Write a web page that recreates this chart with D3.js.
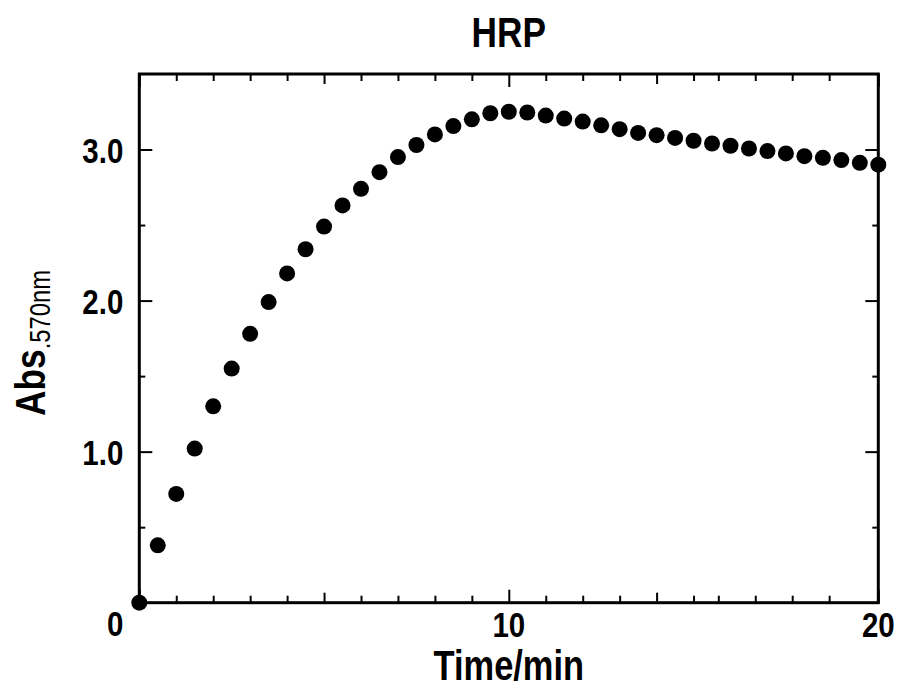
<!DOCTYPE html>
<html>
<head>
<meta charset="utf-8">
<script src="https://cdn.jsdelivr.net/npm/d3@7"></script>
<style>
  body { margin: 0; background: #fff; }
  text { font-family: "Liberation Sans", Arial, sans-serif; font-weight: bold; fill: #000; }
</style>
</head>
<body>
<div id="chart"></div>
<script>
// data
const times = d3.range(0, 20.01, 0.5);
const absValues = [
  0.00, 0.38, 0.72, 1.02, 1.30, 1.55, 1.78, 1.99, 2.18, 2.34,
  2.49, 2.63, 2.74, 2.85, 2.95, 3.03, 3.10, 3.155, 3.20, 3.24,
  3.25, 3.245, 3.225, 3.205, 3.185, 3.16, 3.135, 3.11, 3.095, 3.077,
  3.058, 3.04, 3.025, 3.007, 2.99, 2.974, 2.956, 2.945, 2.93, 2.912, 2.90
];
const xMajorTicks = [0, 10, 20];
const xMidTicks = [5, 14];
const xMinorTicks = [1, 2, 3, 4, 6, 7, 8, 9, 11, 12, 13, 15, 15.67, 16.67, 17.67, 18.67];
const yMajorTicks = [1, 2, 3];
const yMinorTicks = [0.5, 1.5, 2.5];
const xLabels = [10, 20];
const yLabels = [1, 2, 3];

const points = times.map((t, i) => ({ t, v: absValues[i] }));

const W = 899, H = 688;
const NARROW = 0.82; // squeeze the sans font to look like a narrow face
const margin = { top: 74, right: 20.7, bottom: 85.3, left: 139.3 },
      width = W - margin.left - margin.right,
      height = H - margin.top - margin.bottom;

const svg = d3.select("#chart").append("svg")
  .attr("width", W).attr("height", H);

const g = svg.append("g")
  .attr("transform", `translate(${margin.left},${margin.top})`);

const x = d3.scaleLinear().domain([0, 20]).range([0, width]);
const y = d3.scaleLinear().domain([0, 3.5]).range([height, 0]);

function label(parent, px, py, txt, size, anchor) {
  return parent.append("text")
    .attr("transform", `translate(${px},${py}) scale(${NARROW},1)`)
    .attr("text-anchor", anchor || "middle")
    .style("font-size", size + "px")
    .text(txt);
}

// ticks, all pointing inward
function ticks(axisFn, vals, size, transform) {
  const a = g.append("g")
    .attr("transform", transform || null)
    .call(axisFn.tickValues(vals).tickSize(size).tickFormat(""));
  a.select(".domain").remove();
  a.selectAll(".tick line").attr("stroke", "#000").attr("stroke-width", 2);
}
[[xMajorTicks, 13], [xMidTicks, 10], [xMinorTicks, 7]].forEach(([v, s]) => {
  ticks(d3.axisBottom(x), v, -s, `translate(0,${height})`);
  ticks(d3.axisTop(x), v, -s);
});
[[yMajorTicks, 13], [yMinorTicks, 6]].forEach(([v, s]) => {
  ticks(d3.axisLeft(y), v, -s);
  ticks(d3.axisRight(y), v, -s, `translate(${width},0)`);
});

// frame
g.append("rect")
  .attr("width", width).attr("height", height)
  .attr("fill", "none").attr("stroke", "#000").attr("stroke-width", 3);

// tick labels
xLabels.forEach(d => label(g, x(d), height + 34, d, 36));
label(g, x(0) - 24, height + 33, "0", 36);
yLabels.forEach(d => label(g, -16, y(d) + 13, d3.format(".1f")(d), 36, "end"));

// points
g.selectAll("circle").data(points).enter().append("circle")
  .attr("cx", d => x(d.t)).attr("cy", d => y(d.v))
  .attr("r", 8).attr("fill", "#000");

// title and axis titles
label(svg, margin.left + x(10), 47, "HRP", 43);
label(svg, margin.left + x(10), 680, "Time/min", 42);

const yt = svg.append("text")
  .attr("transform", `translate(45,343) rotate(-90) scale(${NARROW},1)`)
  .attr("text-anchor", "middle")
  .style("font-size", "43px");
yt.append("tspan").text("Abs");
yt.append("tspan").attr("dy", 5).style("font-size", "29px")
  .style("font-weight", "normal")
  .text(".570nm");
</script>
</body>
</html>
